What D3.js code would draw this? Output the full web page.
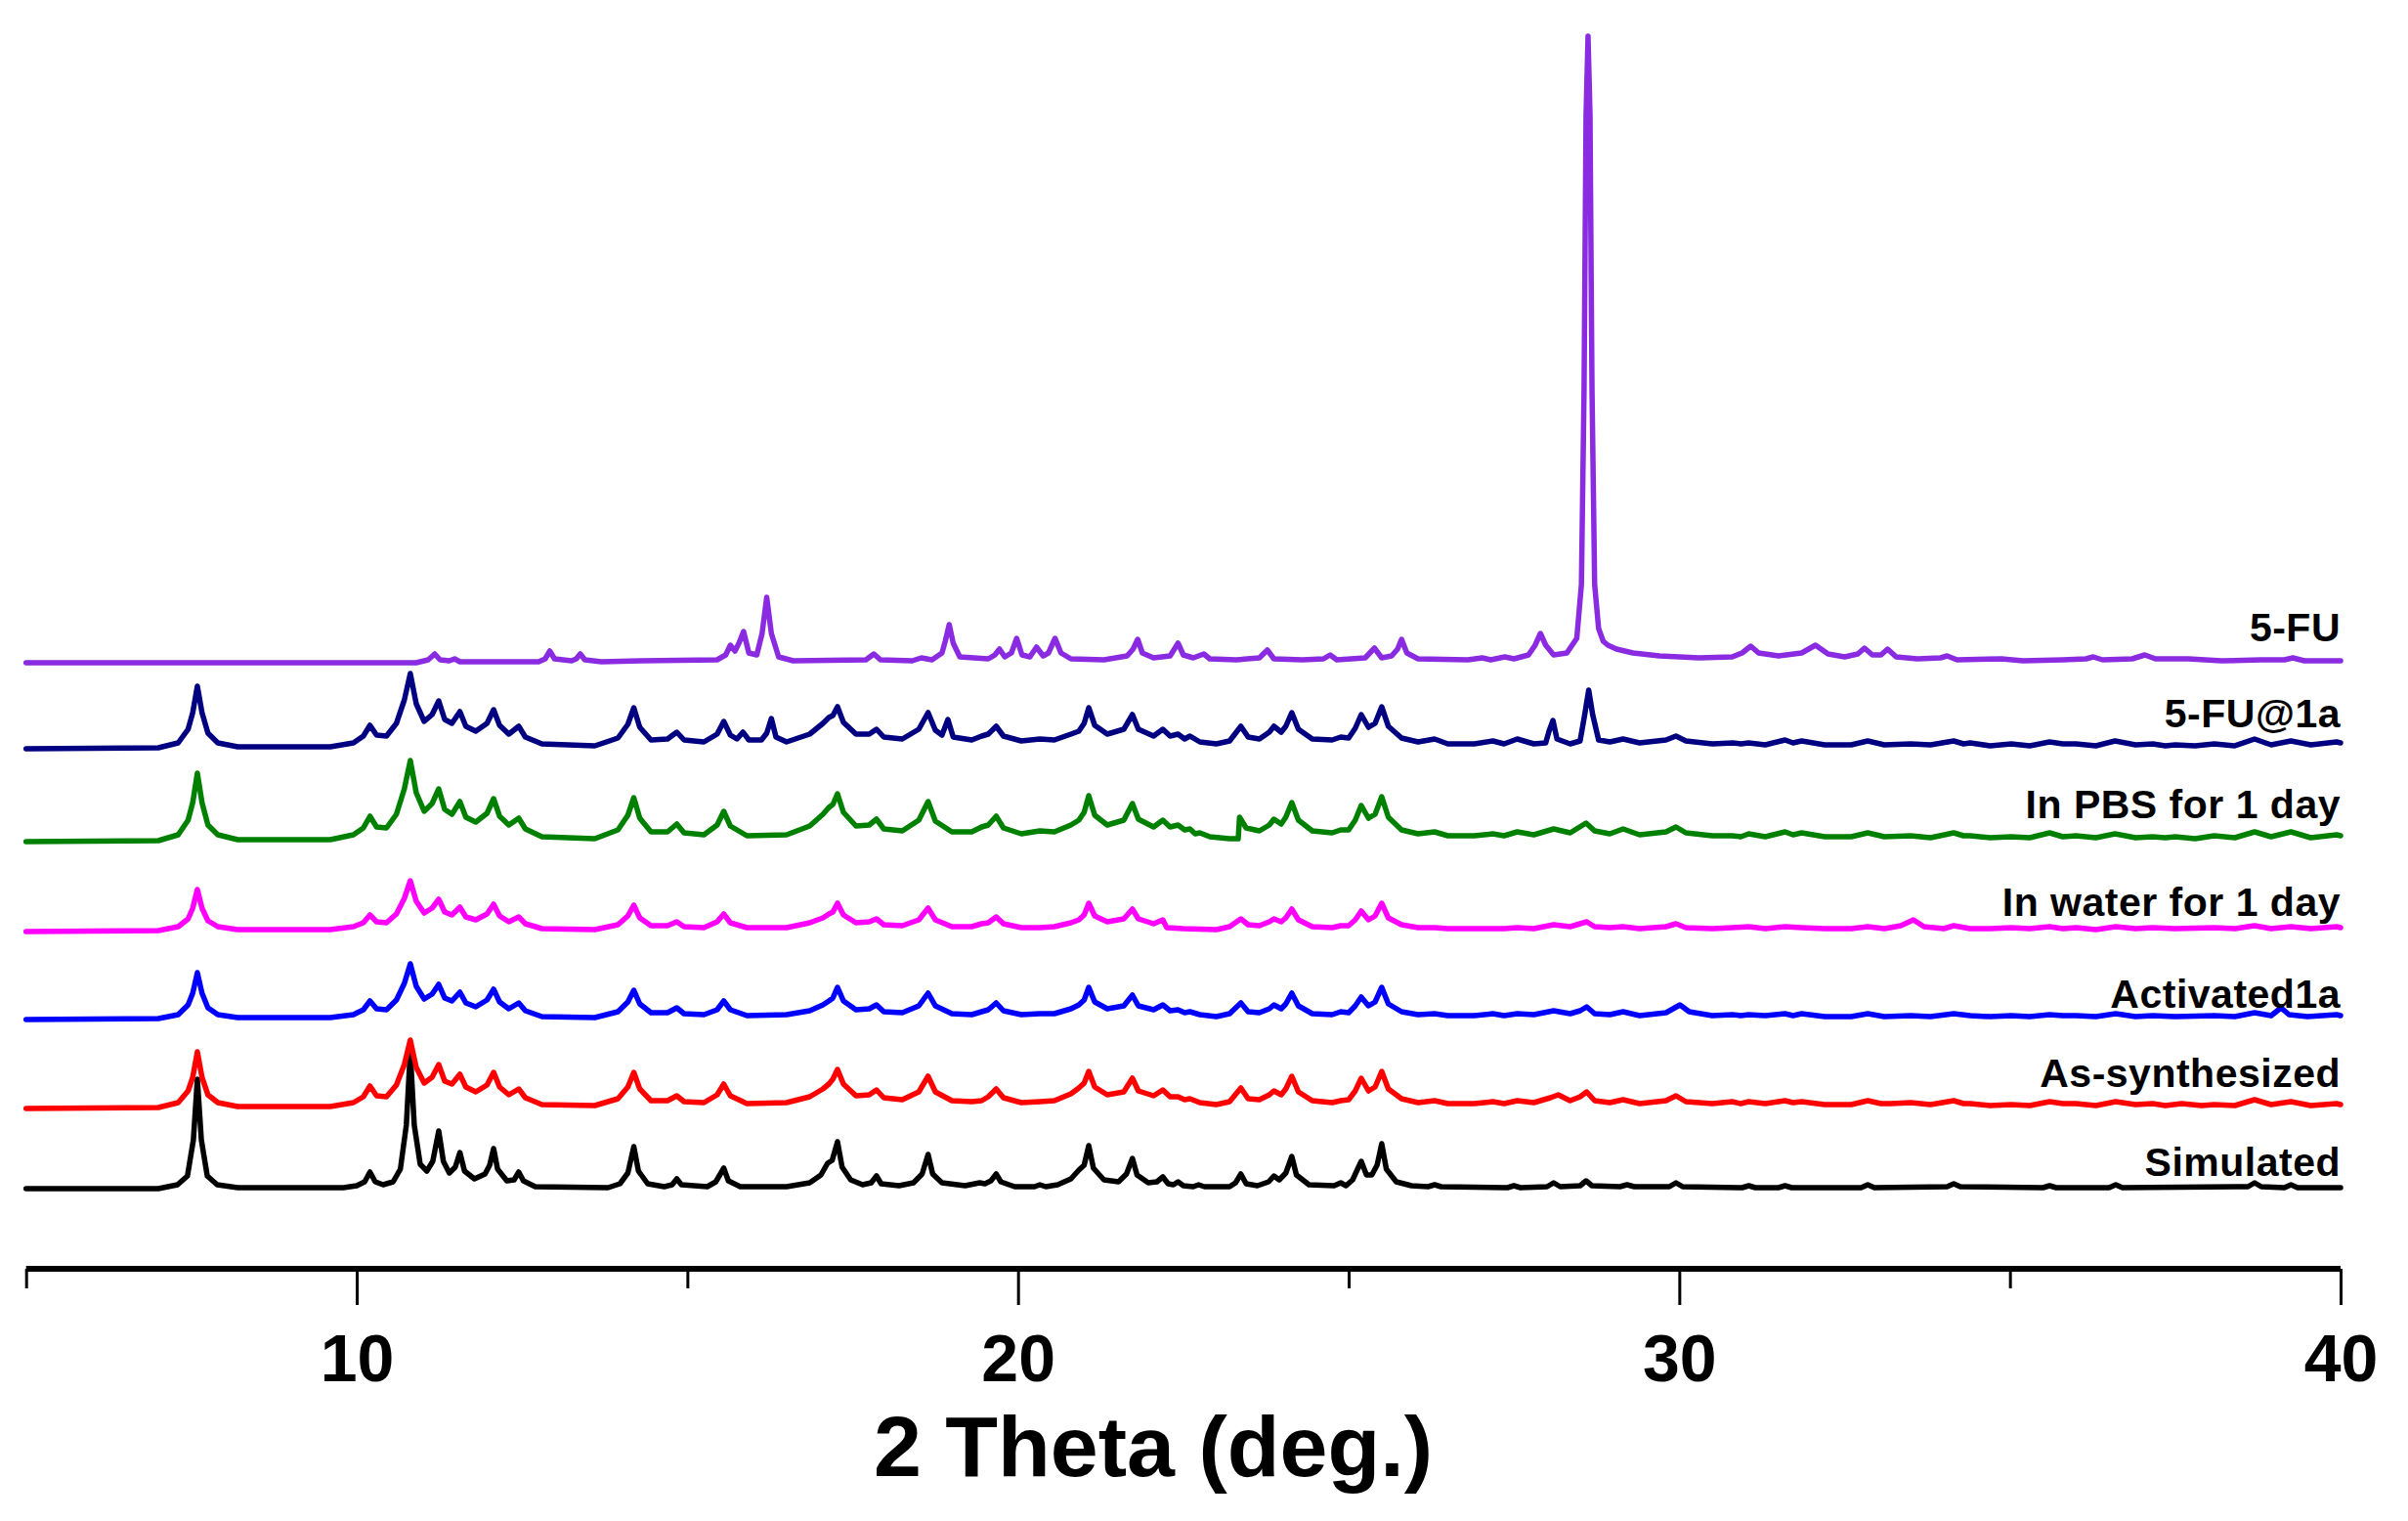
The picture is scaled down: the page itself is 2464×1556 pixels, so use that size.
<!DOCTYPE html>
<html>
<head>
<meta charset="utf-8">
<script src="https://cdn.jsdelivr.net/npm/d3@7"></script>
<style>
    body { margin: 0; background: #fff; }
    svg { display: block; font-family: "Liberation Sans", Arial, sans-serif; }
</style>
</head>
<body>
<svg id="xrd-chart"></svg>
<script>
"use strict";

// 2 theta (deg.) vs intensity above each pattern's own baseline (a.u.)
var simulated = [[5,0],[7.0,0],[7.29,4],[7.44,13],[7.53,50],[7.59,112],[7.65,50],[7.74,13],[7.89,4],[8.2,1],[9.8,1],[10.0,3],[10.12,7],[10.2,17],[10.28,7],[10.4,4],[10.55,7],[10.66,20],[10.75,65],[10.81,140],[10.87,65],[10.96,25],[11.06,18],[11.15,28],[11.24,59],[11.31,28],[11.4,16],[11.49,22],[11.56,37],[11.63,18],[11.78,10],[11.94,15],[12.01,24],[12.07,41],[12.13,20],[12.27,8],[12.38,9],[12.45,17],[12.52,8],[12.7,2],[13.8,1],[13.98,5],[14.1,16],[14.19,43],[14.26,18],[14.4,5],[14.65,2],[14.77,4],[14.84,10],[14.91,4],[15.3,2],[15.43,7],[15.55,21],[15.62,8],[15.8,2],[16.5,2],[16.85,6],[17.02,14],[17.12,26],[17.19,29],[17.27,48],[17.34,22],[17.47,9],[17.65,4],[17.78,6],[17.86,13],[17.93,5],[18.2,3],[18.42,6],[18.55,15],[18.64,35],[18.71,15],[18.85,6],[19.2,3],[19.42,6],[19.5,5],[19.59,8],[19.67,15],[19.74,7],[19.95,2],[20.25,2],[20.33,4],[20.42,2],[20.6,4],[20.8,10],[20.92,19],[21.0,24],[21.07,44],[21.14,21],[21.3,9],[21.52,7],[21.64,15],[21.73,31],[21.8,14],[21.97,6],[22.1,7],[22.19,12],[22.27,5],[22.35,4],[22.42,7],[22.5,3],[22.65,2],[22.73,4],[22.82,2],[23.2,2],[23.29,6],[23.37,15],[23.45,5],[23.62,3],[23.79,7],[23.87,13],[23.95,9],[24.05,16],[24.14,33],[24.21,14],[24.4,4],[24.78,3],[24.88,6],[24.96,3],[25.06,9],[25.19,28],[25.27,14],[25.35,14],[25.43,24],[25.5,46],[25.57,20],[25.72,7],[25.95,3],[26.2,2],[26.3,4],[26.4,2],[27.4,1],[27.5,3],[27.6,1],[28.0,2],[28.1,6],[28.2,2],[28.5,3],[28.59,8],[28.68,3],[29.1,2],[29.21,4],[29.32,2],[29.85,2],[29.95,6],[30.05,2],[30.95,1],[31.05,3],[31.15,1],[31.5,1],[31.6,3],[31.7,1],[32.75,1],[32.85,4],[32.95,1],[34.05,2],[34.15,5],[34.25,2],[35.5,1],[35.6,3],[35.7,1],[36.5,1],[36.6,4],[36.7,1],[38.6,2],[38.7,6],[38.8,2],[39.15,1],[39.25,4],[39.35,1],[40,1]];

var asSynthesized = [[5,0],[7.0,1],[7.3,6],[7.45,18],[7.52,32],[7.59,58],[7.66,32],[7.75,14],[7.9,6],[8.2,2],[9.6,2],[9.95,6],[10.1,12],[10.2,23],[10.3,13],[10.45,12],[10.6,24],[10.72,45],[10.81,70],[10.9,42],[11.02,26],[11.14,32],[11.24,45],[11.33,28],[11.44,25],[11.56,35],[11.65,22],[11.8,17],[11.97,24],[12.07,37],[12.16,22],[12.3,14],[12.45,20],[12.55,11],[12.8,4],[13.6,3],[13.95,10],[14.1,22],[14.19,37],[14.28,20],[14.45,8],[14.7,8],[14.84,13],[14.95,7],[15.25,6],[15.45,14],[15.55,25],[15.65,13],[15.9,5],[16.5,6],[16.85,12],[17.05,20],[17.14,25],[17.2,30],[17.27,40],[17.36,25],[17.55,13],[17.75,14],[17.86,19],[17.97,11],[18.25,9],[18.5,17],[18.64,33],[18.75,17],[19.0,8],[19.3,7],[19.45,8],[19.55,12],[19.67,20],[19.78,11],[20.05,6],[20.33,7],[20.55,8],[20.8,15],[20.92,21],[21.0,26],[21.07,38],[21.16,22],[21.35,14],[21.6,17],[21.73,31],[21.82,18],[22.05,13],[22.19,19],[22.3,12],[22.42,12],[22.52,9],[22.6,10],[22.75,6],[23.0,4],[23.2,7],[23.37,21],[23.48,10],[23.65,9],[23.8,14],[23.87,18],[23.98,14],[24.05,20],[24.14,33],[24.24,17],[24.45,8],[24.75,6],[24.88,8],[25.0,9],[25.1,18],[25.19,31],[25.3,18],[25.4,22],[25.5,38],[25.6,20],[25.8,10],[26.05,6],[26.3,8],[26.5,5],[26.9,5],[27.18,7],[27.35,5],[27.55,8],[27.8,6],[28.05,11],[28.17,14],[28.35,8],[28.5,12],[28.6,17],[28.72,8],[28.95,6],[29.15,9],[29.4,5],[29.8,8],[29.95,13],[30.1,7],[30.5,5],[30.8,7],[30.93,5],[31.05,7],[31.3,5],[31.6,8],[31.72,6],[31.85,7],[32.2,4],[32.6,4],[32.85,8],[33.05,5],[33.2,5],[33.5,6],[33.8,4],[34.15,8],[34.3,5],[34.4,5],[34.7,3],[35.02,4],[35.3,3],[35.6,7],[35.8,5],[36.0,5],[36.3,3],[36.6,7],[36.9,4],[37.16,5],[37.35,3],[37.6,5],[37.9,3],[38.09,4],[38.4,3],[38.7,9],[38.95,4],[39.25,7],[39.55,3],[39.94,5],[40,4]];

var activated1a = [[5,0],[7.0,1],[7.3,5],[7.45,15],[7.52,27],[7.59,48],[7.66,27],[7.75,12],[7.9,5],[8.2,2],[9.6,2],[9.95,5],[10.1,10],[10.2,19],[10.3,11],[10.45,10],[10.6,20],[10.72,37],[10.81,57],[10.9,34],[11.02,21],[11.14,26],[11.24,36],[11.33,22],[11.44,19],[11.56,28],[11.65,17],[11.8,13],[11.97,20],[12.07,31],[12.16,18],[12.3,11],[12.45,17],[12.55,9],[12.8,3],[13.6,2],[13.95,8],[14.1,18],[14.19,30],[14.28,16],[14.45,7],[14.7,7],[14.84,12],[14.95,6],[15.25,5],[15.45,10],[15.55,19],[15.65,10],[15.9,4],[16.5,5],[16.85,9],[17.05,15],[17.14,19],[17.2,22],[17.27,33],[17.36,19],[17.55,10],[17.75,11],[17.86,15],[17.97,8],[18.25,7],[18.5,14],[18.64,27],[18.75,14],[19.0,6],[19.3,5],[19.45,8],[19.55,10],[19.67,17],[19.78,9],[20.05,5],[20.33,6],[20.55,6],[20.8,11],[20.92,15],[21.0,20],[21.07,33],[21.16,18],[21.35,11],[21.6,14],[21.73,25],[21.82,14],[22.05,10],[22.19,15],[22.3,9],[22.42,10],[22.52,7],[22.6,8],[22.75,5],[23.0,3],[23.2,6],[23.37,17],[23.48,8],[23.65,7],[23.8,11],[23.87,15],[23.98,11],[24.05,16],[24.14,27],[24.24,14],[24.45,6],[24.75,5],[24.88,8],[25.0,7],[25.1,14],[25.19,23],[25.3,14],[25.4,18],[25.5,33],[25.6,16],[25.8,8],[26.05,5],[26.3,6],[26.5,4],[26.9,4],[27.18,6],[27.35,4],[27.55,6],[27.8,5],[28.1,9],[28.35,6],[28.5,9],[28.6,13],[28.72,6],[28.95,5],[29.15,8],[29.4,4],[29.8,7],[30.01,15],[30.15,8],[30.5,4],[30.8,5],[30.93,4],[31.05,5],[31.3,4],[31.6,6],[31.72,4],[31.85,6],[32.2,3],[32.6,3],[32.85,6],[33.1,3],[33.5,4],[33.8,3],[34.15,6],[34.4,4],[34.7,3],[35.02,4],[35.3,3],[35.6,5],[35.8,4],[36.0,4],[36.3,3],[36.6,6],[36.9,3],[37.16,4],[37.5,3],[38.09,4],[38.4,3],[38.7,7],[38.95,4],[39.1,12],[39.22,5],[39.5,3],[39.94,5],[40,4]];

var inWater = [[5,0],[7.0,1],[7.3,5],[7.45,13],[7.52,24],[7.59,43],[7.66,24],[7.75,11],[7.9,5],[8.2,2],[9.6,2],[9.95,5],[10.1,9],[10.2,17],[10.3,10],[10.45,9],[10.6,18],[10.72,34],[10.81,52],[10.9,31],[11.02,19],[11.14,24],[11.24,33],[11.33,20],[11.44,17],[11.56,25],[11.65,15],[11.8,12],[11.97,18],[12.07,28],[12.16,16],[12.3,10],[12.45,15],[12.55,8],[12.8,3],[13.6,2],[13.95,7],[14.1,16],[14.19,27],[14.28,14],[14.45,6],[14.7,6],[14.84,10],[14.95,5],[15.25,4],[15.45,10],[15.55,18],[15.65,9],[15.9,4],[16.5,4],[16.85,9],[17.05,14],[17.14,18],[17.2,20],[17.27,29],[17.36,17],[17.55,9],[17.75,10],[17.86,13],[17.97,7],[18.25,6],[18.5,12],[18.64,24],[18.75,12],[19.0,5],[19.3,5],[19.45,8],[19.55,9],[19.67,15],[19.78,8],[20.05,4],[20.33,4],[20.55,5],[20.8,9],[20.92,12],[21.0,17],[21.07,29],[21.16,16],[21.35,10],[21.6,13],[21.73,23],[21.82,13],[22.05,8],[22.19,12],[22.25,4],[22.5,3],[23.0,2],[23.2,5],[23.37,13],[23.48,7],[23.65,6],[23.8,10],[23.87,13],[23.98,10],[24.05,14],[24.14,23],[24.24,12],[24.45,5],[24.75,4],[24.88,6],[25.0,6],[25.1,12],[25.19,21],[25.3,12],[25.4,16],[25.5,29],[25.6,14],[25.8,7],[26.05,4],[26.3,4],[26.5,3],[26.9,3],[27.18,3],[27.35,3],[27.55,4],[27.8,3],[28.1,7],[28.35,5],[28.6,10],[28.72,5],[28.95,4],[29.15,5],[29.4,3],[29.8,5],[29.95,8],[30.1,4],[30.5,3],[30.8,4],[31.05,5],[31.3,3],[31.6,5],[31.85,4],[32.2,3],[32.6,3],[32.85,5],[33.1,3],[33.35,6],[33.54,12],[33.7,5],[34.0,3],[34.15,6],[34.4,3],[34.7,3],[35.02,4],[35.3,3],[35.6,5],[35.8,3],[36.0,4],[36.3,2],[36.6,5],[36.9,3],[37.16,4],[37.5,3],[38.09,4],[38.4,3],[38.7,6],[38.95,3],[39.25,5],[39.55,3],[39.94,5],[40,4]];

var inPBS = [[5,0],[7.0,1],[7.3,7],[7.45,22],[7.52,40],[7.59,70],[7.66,40],[7.75,17],[7.9,7],[8.2,2],[9.6,2],[9.95,7],[10.1,14],[10.2,26],[10.3,15],[10.45,14],[10.6,28],[10.72,54],[10.81,83],[10.9,50],[11.02,31],[11.14,39],[11.24,54],[11.33,33],[11.44,28],[11.56,41],[11.65,25],[11.8,20],[11.97,29],[12.07,44],[12.16,26],[12.3,17],[12.45,24],[12.55,13],[12.8,5],[13.6,3],[13.95,12],[14.1,27],[14.19,45],[14.28,24],[14.45,10],[14.7,10],[14.84,18],[14.95,9],[15.25,7],[15.45,17],[15.55,31],[15.65,16],[15.9,6],[16.5,7],[16.85,16],[17.05,28],[17.14,35],[17.2,38],[17.27,49],[17.36,30],[17.55,16],[17.75,17],[17.86,23],[17.97,13],[18.25,11],[18.5,22],[18.64,41],[18.75,21],[19.0,10],[19.3,10],[19.45,15],[19.55,17],[19.67,26],[19.78,14],[20.05,8],[20.33,11],[20.55,10],[20.8,17],[20.92,22],[21.0,30],[21.07,47],[21.16,27],[21.35,17],[21.6,22],[21.73,39],[21.82,23],[22.05,15],[22.19,22],[22.3,15],[22.42,17],[22.52,12],[22.6,13],[22.68,8],[22.75,9],[22.9,5],[23.2,3],[23.33,3],[23.35,25],[23.45,14],[23.65,11],[23.8,17],[23.87,23],[23.98,18],[24.05,25],[24.14,40],[24.24,22],[24.45,11],[24.75,9],[24.88,12],[25.0,12],[25.1,22],[25.19,37],[25.3,24],[25.4,28],[25.5,46],[25.6,25],[25.8,12],[26.05,8],[26.3,10],[26.5,6],[26.9,6],[27.18,8],[27.35,6],[27.55,10],[27.8,7],[28.1,13],[28.35,9],[28.59,19],[28.72,11],[28.95,8],[29.15,13],[29.4,7],[29.8,10],[29.95,15],[30.1,9],[30.5,6],[30.8,6],[30.93,5],[31.05,8],[31.3,5],[31.6,10],[31.72,7],[31.85,9],[32.2,5],[32.6,5],[32.85,9],[33.1,5],[33.5,6],[33.8,4],[34.15,9],[34.3,6],[34.4,6],[34.7,4],[35.02,5],[35.3,4],[35.6,9],[35.8,5],[36.0,6],[36.3,4],[36.59,8],[36.9,4],[37.16,5],[37.35,4],[37.5,5],[37.8,3],[38.09,6],[38.4,4],[38.7,10],[38.95,5],[39.25,10],[39.55,4],[39.94,7],[40,6]];

var fuAt1a = [[5,0],[7.0,1],[7.3,6],[7.45,20],[7.52,37],[7.59,64],[7.66,37],[7.75,16],[7.9,6],[8.2,2],[9.6,2],[9.95,6],[10.1,13],[10.2,24],[10.3,14],[10.45,13],[10.6,26],[10.72,50],[10.81,77],[10.9,46],[11.02,28],[11.14,35],[11.24,49],[11.33,30],[11.44,26],[11.56,38],[11.65,23],[11.8,18],[11.97,26],[12.07,40],[12.16,24],[12.3,15],[12.45,23],[12.55,12],[12.8,5],[13.6,3],[13.95,11],[14.1,25],[14.19,42],[14.28,22],[14.45,9],[14.7,10],[14.84,17],[14.95,9],[15.25,7],[15.45,15],[15.55,28],[15.65,14],[15.75,10],[15.84,17],[15.93,9],[16.12,9],[16.2,16],[16.27,31],[16.34,12],[16.5,7],[16.85,15],[17.05,26],[17.14,32],[17.2,34],[17.27,43],[17.36,27],[17.55,15],[17.75,15],[17.86,20],[17.97,12],[18.25,10],[18.5,20],[18.64,37],[18.75,19],[18.85,14],[18.94,30],[19.02,12],[19.3,9],[19.45,13],[19.55,15],[19.67,23],[19.78,13],[20.05,8],[20.33,10],[20.55,9],[20.8,15],[20.92,18],[21.0,26],[21.07,42],[21.16,24],[21.35,15],[21.6,20],[21.73,35],[21.82,20],[22.05,13],[22.19,20],[22.3,13],[22.42,15],[22.52,10],[22.6,13],[22.75,7],[23.0,5],[23.2,8],[23.37,23],[23.48,12],[23.65,10],[23.8,17],[23.87,23],[23.98,17],[24.05,23],[24.14,37],[24.24,20],[24.45,10],[24.75,9],[24.88,12],[25.0,11],[25.1,21],[25.19,35],[25.3,22],[25.4,26],[25.5,43],[25.6,23],[25.8,11],[26.05,7],[26.3,10],[26.5,5],[26.9,5],[27.18,8],[27.35,5],[27.55,10],[27.8,5],[27.98,6],[28.03,18],[28.09,29],[28.15,10],[28.35,5],[28.5,8],[28.57,35],[28.63,60],[28.69,35],[28.78,9],[28.95,7],[29.15,10],[29.4,6],[29.8,9],[29.95,13],[30.1,8],[30.5,5],[30.81,6],[30.93,5],[31.05,6],[31.3,4],[31.6,9],[31.72,6],[31.85,8],[32.2,4],[32.6,4],[32.85,8],[33.1,4],[33.5,5],[33.8,4],[34.15,8],[34.3,5],[34.4,6],[34.7,3],[35.02,5],[35.3,3],[35.6,7],[35.8,5],[36.0,5],[36.3,3],[36.59,8],[36.9,4],[37.16,5],[37.35,3],[37.5,4],[37.8,3],[38.09,5],[38.4,3],[38.7,10],[38.95,4],[39.25,8],[39.55,4],[39.94,7],[40,6]];

var fu5 = [[5,0],[10.9,0],[11.08,3],[11.18,9],[11.26,3],[11.4,2],[11.48,4],[11.56,1],[12.75,1],[12.85,4],[12.92,12],[12.99,4],[13.25,2],[13.32,4],[13.38,9],[13.45,3],[13.7,1],[14.3,2],[15.45,3],[15.58,8],[15.65,18],[15.72,12],[15.78,20],[15.85,32],[15.93,10],[16.05,8],[16.13,30],[16.2,67],[16.27,30],[16.38,6],[16.6,2],[17.7,3],[17.82,9],[17.92,3],[18.4,2],[18.54,5],[18.7,3],[18.85,10],[18.9,22],[18.96,39],[19.02,20],[19.12,6],[19.55,4],[19.65,8],[19.72,14],[19.8,6],[19.9,10],[19.98,25],[20.06,8],[20.18,6],[20.28,16],[20.38,7],[20.46,10],[20.56,25],[20.65,10],[20.8,4],[21.3,3],[21.65,7],[21.74,14],[21.81,24],[21.88,10],[22.05,5],[22.3,7],[22.42,20],[22.5,8],[22.65,5],[22.81,9],[22.9,4],[23.3,3],[23.65,5],[23.77,13],[23.87,4],[24.3,3],[24.62,4],[24.72,8],[24.82,3],[25.25,5],[25.39,15],[25.5,5],[25.65,7],[25.74,14],[25.8,24],[25.88,10],[26.05,4],[26.8,3],[27.02,5],[27.15,3],[27.36,6],[27.5,4],[27.72,8],[27.82,18],[27.9,30],[27.98,18],[28.1,8],[28.3,10],[28.45,25],[28.52,80],[28.56,280],[28.59,560],[28.62,641],[28.65,560],[28.68,280],[28.72,80],[28.78,35],[28.85,22],[28.92,18],[29.05,14],[29.3,10],[29.7,7],[30.3,5],[30.8,6],[30.95,10],[31.08,17],[31.2,10],[31.5,7],[31.85,10],[32.06,18],[32.25,9],[32.5,6],[32.7,9],[32.8,15],[32.92,8],[33.05,8],[33.15,14],[33.28,6],[33.6,4],[33.95,5],[34.05,7],[34.2,3],[34.87,4],[35.2,2],[35.8,3],[36.15,4],[36.26,6],[36.4,3],[36.85,4],[37.04,8],[37.2,4],[37.7,4],[38.2,2],[38.8,3],[39.15,3],[39.28,5],[39.45,2],[40,2]];

var seriesNames = ["Simulated", "As-synthesized", "Activated1a", "In water for 1 day", "In PBS for 1 day", "5-FU@1a", "5-FU"];
var seriesData = [simulated, asSynthesized, activated1a, inWater, inPBS, fuAt1a, fu5];
var seriesOffsets = [0, 82, 173, 263, 355, 450, 538];

var majorTicks = [10, 20, 30, 40];
var minorTicks = [5, 15, 25, 35];

(function () {

    var width = 2464, height = 1556;
    var colors = ["#000000", "#ff0000", "#0000ff", "#ff00ff", "#008000", "#000080", "#8a2be2"];
    // label baseline lift above each pattern's baseline
    var labelLift = [13, 22, 12, 16, 24, 22, 22];

    var svg = d3.select("#xrd-chart")
        .attr("width", width)
        .attr("height", height);

    svg.append("rect")
        .attr("width", width)
        .attr("height", height)
        .attr("fill", "#fff");

    var xScale = d3.scaleLinear()
        .domain([5, 40])
        .range([26.7, 2395]);

    var yScale = d3.scaleLinear()
        .domain([0, 1200])
        .range([1216, 16]);

    var line = d3.line()
        .x(function (d) { return xScale(d[0]); })
        .y(function (d) { return yScale(d[1]); });

    seriesData.forEach(function (data, i) {
        var shifted = data.map(function (d) { return [d[0], d[1] + seriesOffsets[i]]; });
        svg.append("path")
            .datum(shifted)
            .attr("fill", "none")
            .attr("stroke", colors[i])
            .attr("stroke-width", 5.5)
            .attr("stroke-linejoin", "round")
            .attr("stroke-linecap", "round")
            .attr("d", line);

        svg.append("text")
            .attr("x", xScale(40))
            .attr("y", yScale(seriesOffsets[i] + labelLift[i]))
            .attr("text-anchor", "end")
            .style("font-size", "41px")
            .style("font-weight", "bold")
            .style("letter-spacing", "0.5px")
            .text(seriesNames[i]);
    });

    // x axis: major ticks with labels, minor ticks without
    var axisY = 1298;

    var minorAxis = svg.append("g")
        .attr("transform", "translate(0," + axisY + ")")
        .call(d3.axisBottom(xScale).tickValues(minorTicks).tickSize(20).tickSizeOuter(0).tickFormat(""));
    minorAxis.select(".domain").remove();
    minorAxis.selectAll(".tick line").attr("stroke", "#000").attr("stroke-width", 3);

    var majorAxis = svg.append("g")
        .attr("transform", "translate(0," + axisY + ")")
        .call(d3.axisBottom(xScale).tickValues(majorTicks).tickSize(37).tickSizeOuter(0).tickFormat(d3.format("d")));
    majorAxis.select(".domain")
        .attr("stroke", "#000")
        .attr("stroke-width", 6)
        .attr("d", "M" + xScale(5) + ",0H" + xScale(40));
    majorAxis.selectAll(".tick line").attr("stroke", "#000").attr("stroke-width", 3);
    majorAxis.selectAll(".tick text")
        .attr("y", 115)
        .attr("dy", 0)
        .attr("fill", "#000")
        .style("font-family", "'Liberation Sans', Arial, sans-serif")
        .style("font-size", "68px")
        .style("font-weight", "bold");

    svg.append("text")
        .attr("x", 1180)
        .attr("y", 1510)
        .attr("text-anchor", "middle")
        .style("font-size", "88px")
        .style("font-weight", "bold")
        .text("2 Theta (deg.)");

})();
</script>
</body>
</html>
